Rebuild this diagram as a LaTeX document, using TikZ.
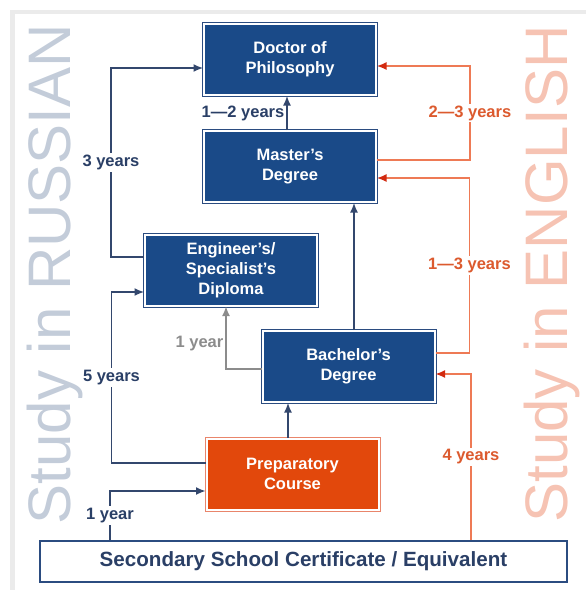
\documentclass[tikz,border=0pt]{standalone}
\usepackage{fontspec}
\setmainfont{Liberation Sans}
\usetikzlibrary{arrows.meta,positioning,calc}

\definecolor{boxblue}{HTML}{1A4A88}
\definecolor{boxline}{HTML}{2B4C80}
\definecolor{prepfill}{HTML}{E2480C}
\definecolor{prepline}{HTML}{E9856B}
\definecolor{arrowblue}{HTML}{33476D}
\definecolor{labblue}{HTML}{2A3F66}
\definecolor{redline}{HTML}{EE7A55}
\definecolor{redtext}{HTML}{DC5A2E}
\definecolor{redtip}{HTML}{D22A10}
\definecolor{graylab}{HTML}{8C8C8C}
\definecolor{russiangray}{HTML}{C3CCD9}
\definecolor{englishpink}{HTML}{F6C3B3}
\definecolor{framegray}{HTML}{EBEBEB}

\begin{document}
\begin{tikzpicture}[x=1pt,y=-1pt]
\tikzset{
  degbox/.style={rectangle, fill=boxblue, draw=white, line width=2pt,
    preaction={draw=boxline, line width=4pt},
    minimum width=172pt, minimum height=71pt, align=center, text=white,
    font=\fontsize{16.5}{20}\selectfont\bfseries, inner sep=2pt},
  prepbox/.style={degbox, fill=prepfill, preaction={draw=prepline, line width=4pt}},
  schoolbox/.style={rectangle, fill=white, draw=boxline, line width=2pt, minimum width=527pt,
    minimum height=41pt, text=labblue, font=\fontsize{20.6}{22}\selectfont\bfseries},
  flow/.style={-{Latex[length=9.5pt,width=8pt]}, line width=1.4pt, draw=arrowblue},
  redflow/.style={-{Latex[length=9.5pt,width=8pt,color=redtip]}, line width=1.4pt, draw=redline},
  grayflow/.style={-{Latex[length=9.5pt,width=8pt]}, line width=1.4pt, draw=graylab},
  lab/.style={font=\fontsize{16.5}{18}\selectfont\bfseries, text=labblue, fill=white, inner sep=2pt},
  redlab/.style={lab, text=redtext},
  graylab/.style={lab, text=graylab, fill=none},
  bigside/.style={rotate=90, anchor=base, font=\fontsize{60}{60}\selectfont}
}
\useasboundingbox (0,0) rectangle (586,590);
\fill[framegray] (10,10) rectangle (586,14);
\fill[framegray] (10,10) rectangle (15,590);

% side titles
\node[bigside, text=russiangray] (russian) at (70,274) {Study in RUSSIAN};
\node[bigside, text=englishpink] (english) at (567,274) {Study in ENGLISH};

% degrees
\node[degbox] (phd) at (290,59.5) {Doctor of\\Philosophy};
\node[degbox] (master) at (290,166.5) {Master's\\Degree};
\node[degbox] (engineer) at (231,270) {Engineer's/\\Specialist's\\Diploma};
\node[degbox] (bachelor) at (348.5,366.5) {Bachelor's\\Degree};
\node[prepbox] (prep) at (292.5,474) {Preparatory\\Course};
\node[schoolbox] (school) at (303.5,561.5) {Secondary School Certificate / Equivalent};

% russian track
\draw[flow] ([xshift=-3pt]master.north) -- node[lab, left, fill=none] {1---2 years} ([xshift=-3pt]master.north |- phd.south);
\draw[flow] ([yshift=13pt]engineer.west) -- ++(-33,0) |- node[lab, pos=0.25] {3 years} ([yshift=-8.5pt]phd.west);
\draw[flow] ([yshift=11pt]prep.west) -- ++(-94,0) |- node[lab, pos=0.25] {5 years} ([yshift=-22pt]engineer.west);
\draw[flow] ([xshift=-193.5pt]school.north) |- node[lab, pos=0.25] {1 year} ([yshift=-17pt]prep.west);
\draw[grayflow] ([yshift=-2.5pt]bachelor.west) -| node[graylab, left, pos=0.7] {1 year} ([xshift=-5pt]engineer.south);
\draw[flow] ([xshift=-4.5pt]prep.north) -- ([xshift=-4.5pt]prep.north |- bachelor.south);
\draw[flow] ([xshift=5.5pt]bachelor.north) -- ([xshift=5.5pt]bachelor.north |- master.south);

% english track
\draw[redflow] ([yshift=6.5pt]master.east) -- ++(93,0) |- node[redlab, pos=0.25] {2---3 years} ([yshift=-6.5pt]phd.east);
\draw[redflow] ([yshift=13.5pt]bachelor.east) -- ++(34,0) |- node[redlab, pos=0.25] {1---3 years} ([yshift=-11.5pt]master.east);
\draw[redflow] ([xshift=167.5pt]school.north) |- node[redlab, pos=0.25] {4 years} ([yshift=-7.5pt]bachelor.east);
\end{tikzpicture}
\end{document}
